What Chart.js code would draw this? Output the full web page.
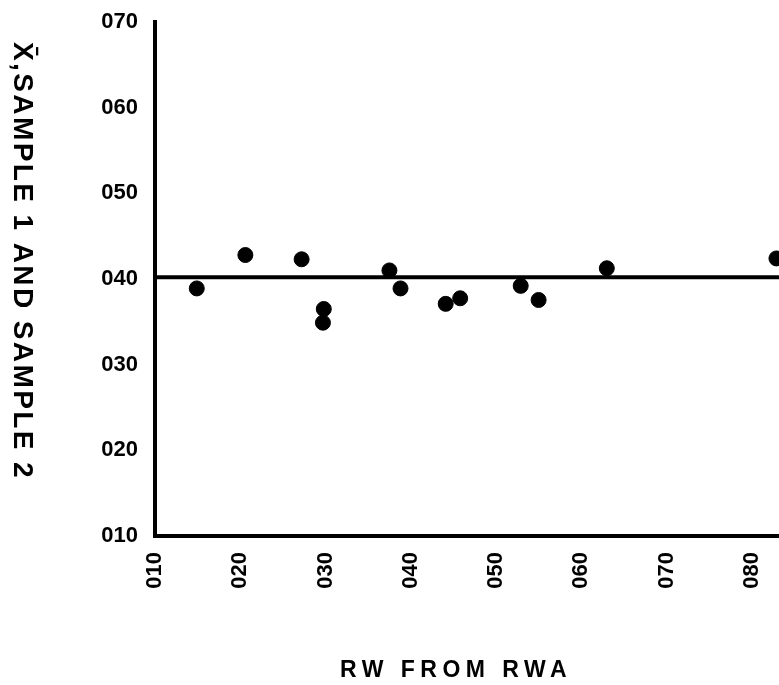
<!DOCTYPE html>
<html>
<head>
<meta charset="utf-8">
<script src="https://cdn.jsdelivr.net/npm/chart.js@4/dist/chart.umd.min.js"></script>
<style>
  body { margin: 0; background: #fff; }
  canvas { display: block; }
</style>
</head>
<body>
<canvas id="chart" width="779" height="685"></canvas>
<script>
// RW values (x) and X-bar values (y)
const rwValues = [14.9, 20.6, 27.2, 29.8, 29.7, 37.5, 38.8, 44.1, 45.8, 52.9, 55.0, 63.0, 82.9];
const xbarValues = [38.9, 42.8, 42.3, 36.5, 34.9, 41.0, 38.9, 37.1, 37.75, 39.2, 37.55, 41.25, 42.4];
const meanLine = 40.2;
const xTicks = [10, 20, 30, 40, 50, 60, 70, 80];
const yTicks = [10, 20, 30, 40, 50, 60, 70];
const xTitle = 'RW FROM RWA';
const yTitle = 'X\u0304,SAMPLE 1 AND SAMPLE 2';

const pad3 = v => String(v).padStart(3, '0');

// axis titles drawn by hand: y title reads top to bottom, both letter-spaced
const titlesPlugin = {
  id: 'titles',
  afterDraw(chart) {
    const ctx = chart.ctx;
    ctx.save();
    ctx.fillStyle = '#000';
    ctx.textAlign = 'center';
    ctx.textBaseline = 'middle';

    ctx.font = 'bold 28px "Liberation Sans", Arial, sans-serif';
    ctx.letterSpacing = '2.4px';
    ctx.translate(22, 261);
    ctx.rotate(Math.PI / 2);
    ctx.fillText(yTitle, 0, 0);
    ctx.setTransform(1, 0, 0, 1, 0, 0);

    ctx.font = 'bold 23px "Liberation Sans", Arial, sans-serif';
    ctx.letterSpacing = '5.5px';
    ctx.fillText(xTitle, 456, 671);
    ctx.restore();
  }
};

new Chart(document.getElementById('chart'), {
  type: 'scatter',
  data: {
    datasets: [
      {
        type: 'line',
        data: [{ x: 10, y: meanLine }, { x: 83.2, y: meanLine }],
        borderColor: '#000',
        borderWidth: 4,
        pointRadius: 0
      },
      {
        data: rwValues.map((x, i) => ({ x, y: xbarValues[i] })),
        backgroundColor: '#000',
        borderColor: '#000',
        pointRadius: 7.5
      }
    ]
  },
  options: {
    responsive: false,
    animation: false,
    layout: { autoPadding: false, padding: { top: 22, right: 0, left: 0, bottom: 0 } },
    plugins: { legend: { display: false }, tooltip: { enabled: false } },
    scales: {
      x: {
        type: 'linear',
        min: 10,
        max: 83.2,
        grid: { display: false },
        border: { display: true, color: '#000', width: 4 },
        afterBuildTicks: axis => { axis.ticks = xTicks.map(v => ({ value: v })); },
        afterFit: axis => { axis.height = 149; axis.paddingRight = 0; axis.paddingLeft = 0; },
        ticks: {
          color: '#000',
          padding: 8,
          minRotation: 90,
          maxRotation: 90,
          font: { family: '"Liberation Sans", Arial, sans-serif', size: 22, weight: 'bold' },
          callback: v => pad3(v)
        }
      },
      y: {
        min: 10,
        max: 70,
        grid: { display: false },
        border: { display: true, color: '#000', width: 4 },
        afterBuildTicks: axis => { axis.ticks = yTicks.map(v => ({ value: v })); },
        afterFit: axis => { axis.width = 155; axis.paddingTop = 0; axis.paddingBottom = 0; },
        ticks: {
          color: '#000',
          padding: 9,
          font: { family: '"Liberation Sans", Arial, sans-serif', size: 22, weight: 'bold' },
          callback: v => pad3(v)
        }
      }
    }
  },
  plugins: [titlesPlugin]
});
</script>
</body>
</html>
